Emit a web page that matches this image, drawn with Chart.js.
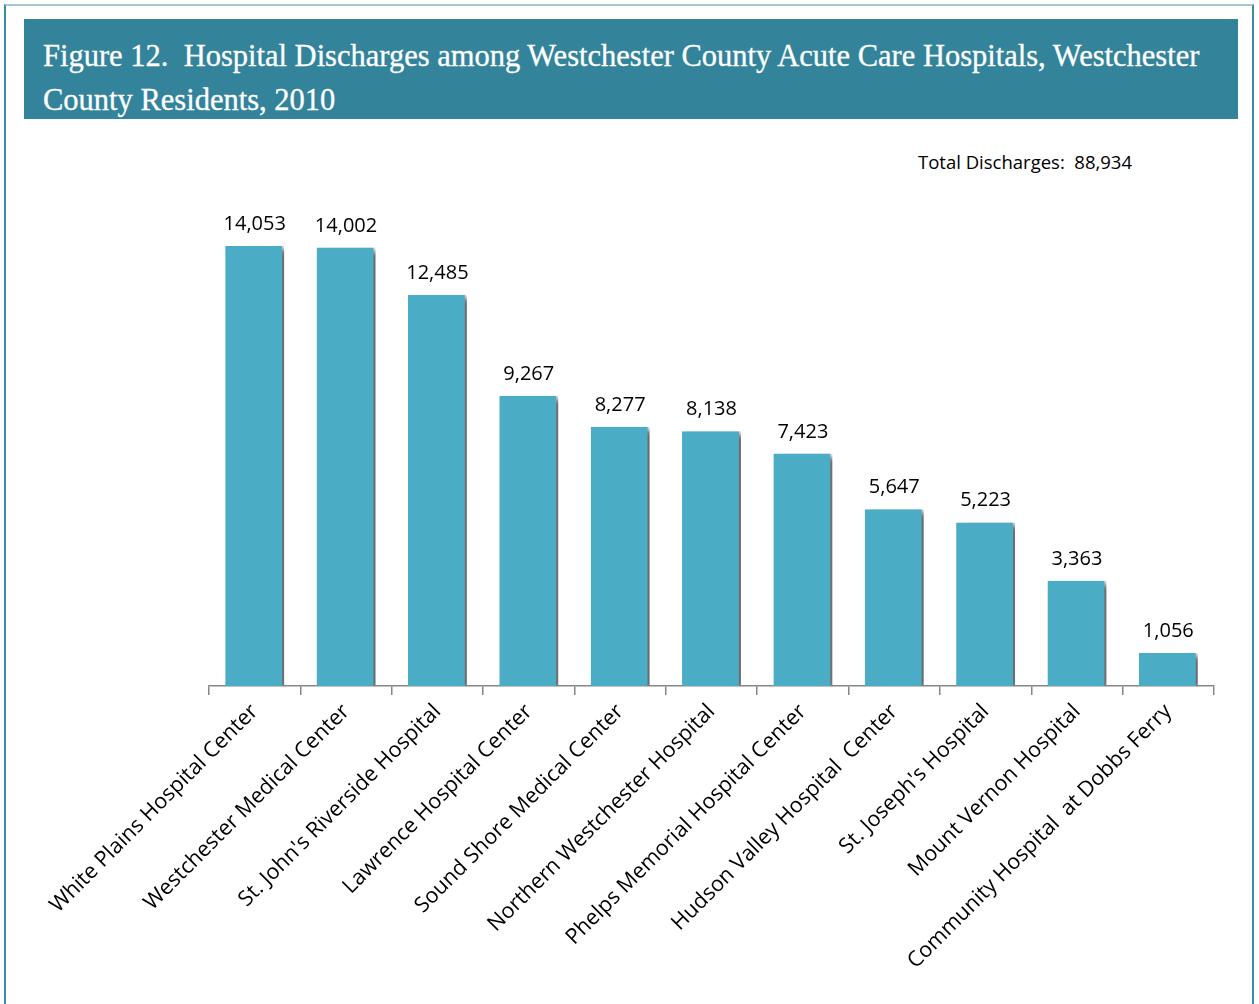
<!DOCTYPE html>
<html lang="en">
<head>
    <meta charset="UTF-8">
    <title>Hospital Discharges, Westchester County 2010</title>
    <script src="https://cdn.jsdelivr.net/npm/chart.js@4.4.1/dist/chart.umd.min.js"></script>
    <style>
        html, body {
            margin: 0;
            padding: 0;
            background: #ffffff;
        }
        #frame {
            position: absolute;
            left: 4px;
            top: 4px;
            width: 1250px;
            height: 1010px;
            border-left: 2px solid #3a8aa2;
            border-right: 2px solid #3a8aa2;
            border-top: 2px solid #a7c9d5;
            box-sizing: border-box;
        }
        #header {
            position: absolute;
            left: 24px;
            top: 19px;
            width: 1214px;
            height: 100px;
            background: #33849b;
        }
        #header h1 {
            margin: 0;
            padding: 15px 0 0 19px;
            font-family: "Liberation Serif", "DejaVu Serif", serif;
            font-weight: normal;
            font-size: 30.5px;
            line-height: 44px;
            color: #ffffff;
            -webkit-text-stroke: 0.3px #ffffff;
        }
        #total {
            position: absolute;
            left: 918px;
            top: 149px;
            font-family: "Open Sans", sans-serif;
            font-size: 18.5px;
            color: #000000;
            white-space: pre;
        }
        #wrap {
            position: absolute;
            left: 24px;
            top: 125px;
            width: 1214px;
            height: 875px;
        }
    </style>
</head>
<body>
    <div id="frame"></div>
    <div id="header">
        <h1>Figure 12.&nbsp; Hospital Discharges among Westchester County Acute Care Hospitals, Westchester<br>County Residents, 2010</h1>
    </div>
    <div id="total">Total Discharges:  88,934</div>
    <div id="wrap"><canvas id="chart"></canvas></div>

    <script>
        // Chart data
        const hospitals = [
            'White Plains Hospital Center',
            'Westchester Medical Center',
            "St. John's Riverside Hospital",
            'Lawrence Hospital Center',
            'Sound Shore Medical Center',
            'Northern Westchester Hospital',
            'Phelps Memorial Hospital Center',
            'Hudson Valley Hospital  Center',
            "St. Joseph's Hospital",
            'Mount Vernon Hospital',
            'Community Hospital  at Dobbs Ferry'
        ];
        const discharges = [14053, 14002, 12485, 9267, 8277, 8138, 7423, 5647, 5223, 3363, 1056];

        const barColor = '#4bacc6';

        // soft shadow to the right of each bar
        const barShadow = {
            id: 'barShadow',
            beforeDatasetsDraw(chart) {
                const ctx = chart.ctx;
                ctx.save();
                ctx.shadowColor = 'rgba(0,0,0,0.6)';
                ctx.shadowOffsetX = 6;
                ctx.shadowOffsetY = 3;
                ctx.shadowBlur = 6;
            },
            afterDatasetsDraw(chart) {
                chart.ctx.restore();
            }
        };

        // value labels above bars
        const valueLabels = {
            id: 'valueLabels',
            afterDraw(chart) {
                const ctx = chart.ctx;
                const meta = chart.getDatasetMeta(0);
                ctx.save();
                ctx.font = '20px "Open Sans", sans-serif';
                ctx.fillStyle = '#000000';
                ctx.textAlign = 'center';
                ctx.textBaseline = 'alphabetic';
                meta.data.forEach((bar, i) => {
                    ctx.fillText(discharges[i].toLocaleString('en-US'), bar.x, bar.y - 16);
                });
                ctx.restore();
            }
        };

        const ctx = document.getElementById('chart').getContext('2d');
        new Chart(ctx, {
            type: 'bar',
            data: {
                labels: hospitals,
                datasets: [{
                    data: discharges,
                    backgroundColor: barColor,
                    borderColor: '#ffffff',
                    borderWidth: { top: 0, right: 2, bottom: 0, left: 0 },
                    borderSkipped: false,
                    categoryPercentage: 1,
                    barPercentage: 0.645
                }]
            },
            options: {
                responsive: true,
                maintainAspectRatio: false,
                animation: false,
                layout: {
                    padding: { top: 60, left: 185, right: 24, bottom: 0 }
                },
                plugins: {
                    legend: { display: false },
                    tooltip: { enabled: false }
                },
                scales: {
                    x: {
                        offset: true,
                        afterFit(scale) { scale.height = 314; },
                        grid: {
                            display: true,
                            offset: true,
                            drawOnChartArea: false,
                            drawTicks: true,
                            tickLength: 9,
                            color: '#868686',
                            lineWidth: 1.5
                        },
                        border: { display: true, color: '#868686', width: 1.5 },
                        ticks: {
                            minRotation: 45,
                            maxRotation: 45,
                            autoSkip: false,
                            padding: 4,
                            color: '#000000',
                            font: { family: '"Open Sans", sans-serif', size: 21.5 }
                        }
                    },
                    y: {
                        display: false,
                        min: 0,
                        max: 16000
                    }
                }
            },
            plugins: [barShadow, valueLabels]
        });
    </script>
</body>
</html>
